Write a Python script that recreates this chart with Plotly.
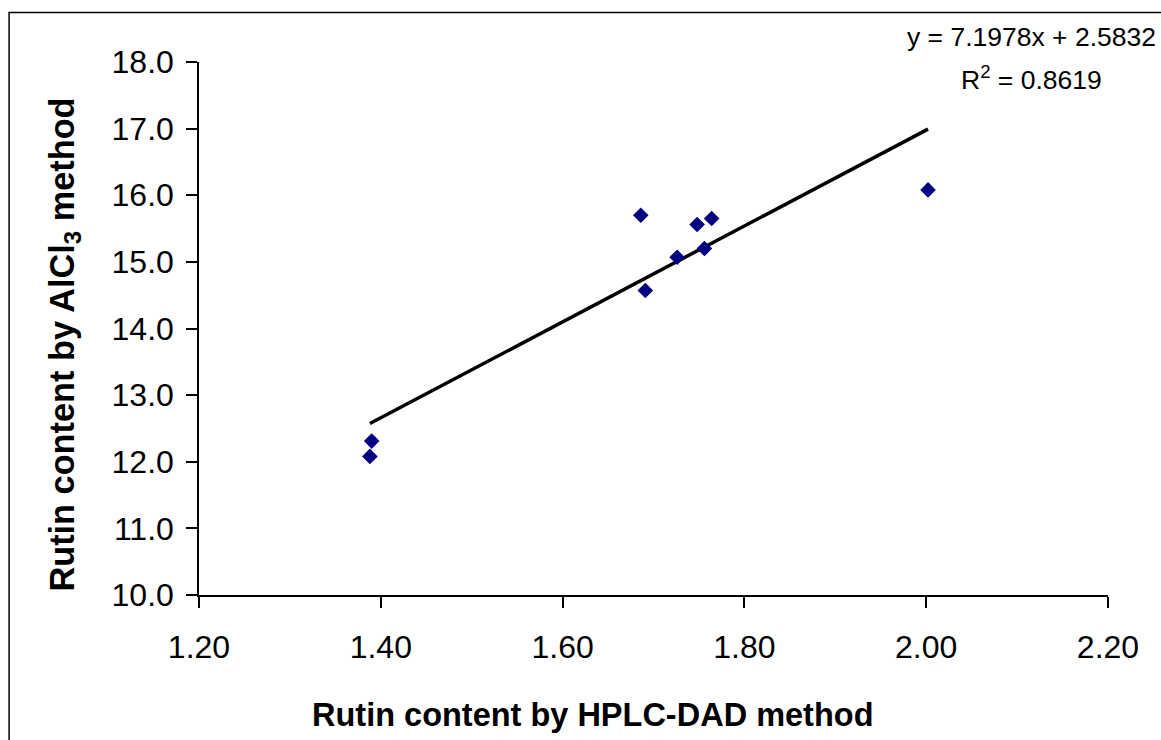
import plotly.graph_objects as go

hplc = [1.390, 1.388, 1.686, 1.691, 1.726, 1.748, 1.764, 1.756, 2.002]
alcl3 = [12.31, 12.08, 15.70, 14.57, 15.07, 15.56, 15.65, 15.20, 16.08]
slope = 7.1978
intercept = 2.5832
r2 = 0.8619
x_ticks = [1.2, 1.4, 1.6, 1.8, 2.0, 2.2]
y_ticks = [10, 11, 12, 13, 14, 15, 16, 17, 18]

W, H = 1161, 740
ml, mr, mt, mb = 198.5, 53, 62, 145
pw, ph = W - ml - mr, H - mt - mb

def px_x(p):
    return (p - ml) / pw

def px_y(p):
    return (H - mb - p) / ph

font = "Liberation Sans, Arial, sans-serif"

fig = go.Figure()
xl = [min(hplc), max(hplc)]
fig.add_trace(go.Scatter(x=xl, y=[slope * v + intercept for v in xl], mode="lines",
                         line=dict(color="black", width=3.5), hoverinfo="skip"))
fig.add_trace(go.Scatter(x=hplc, y=alcl3, mode="markers",
                         marker=dict(symbol="diamond", size=12, color="#000080",
                                     line=dict(width=0))))

fig.update_layout(
    width=W, height=H, showlegend=False,
    margin=dict(l=ml, r=mr, t=mt, b=mb),
    paper_bgcolor="white", plot_bgcolor="white",
    font=dict(family=font, color="black", size=30),
    xaxis=dict(range=[1.2, 2.2], tickvals=x_ticks, ticktext=[f"{v:.2f}" for v in x_ticks],
               showgrid=False, zeroline=False, showline=True, linecolor="black", linewidth=1.5,
               ticks="outside", ticklen=11, tickwidth=1.5, tickcolor="black",
               tickfont=dict(size=32), ticklabelstandoff=12),
    yaxis=dict(range=[10, 18], tickvals=y_ticks, ticktext=[f"{v:.1f}" for v in y_ticks],
               showgrid=False, zeroline=False, showline=True, linecolor="black", linewidth=1.5,
               ticks="outside", ticklen=11, tickwidth=1.5, tickcolor="black",
               tickfont=dict(size=32), ticklabelstandoff=6),
)

fig.add_annotation(text="<b>Rutin content by HPLC-DAD method</b>", xref="paper", yref="paper",
                   x=px_x(592.5), y=px_y(715), showarrow=False, font=dict(size=32.5),
                   xanchor="center", yanchor="middle")
fig.add_annotation(text="<b>Rutin content by AlCl<sub>3</sub> method</b>", xref="paper", yref="paper",
                   x=px_x(63), y=px_y(345), showarrow=False, font=dict(size=34.3), textangle=-90,
                   xanchor="center", yanchor="middle")
fig.add_annotation(text=f"y = {slope}x + {intercept}", xref="paper", yref="paper",
                   x=px_x(1031), y=px_y(37), showarrow=False, font=dict(size=26.5),
                   xanchor="center", yanchor="middle")
fig.add_annotation(text=f"R<sup>2</sup> = {r2}", xref="paper", yref="paper",
                   x=px_x(1031), y=px_y(78), showarrow=False, font=dict(size=26.5),
                   xanchor="center", yanchor="middle")

fig.add_shape(type="rect", xref="paper", yref="paper",
              x0=px_x(8.5), y0=px_y(H + 50), x1=px_x(W + 50), y1=px_y(12.5),
              line=dict(color="black", width=1.5), fillcolor="rgba(0,0,0,0)", layer="above")

fig.write_html("out.html")
